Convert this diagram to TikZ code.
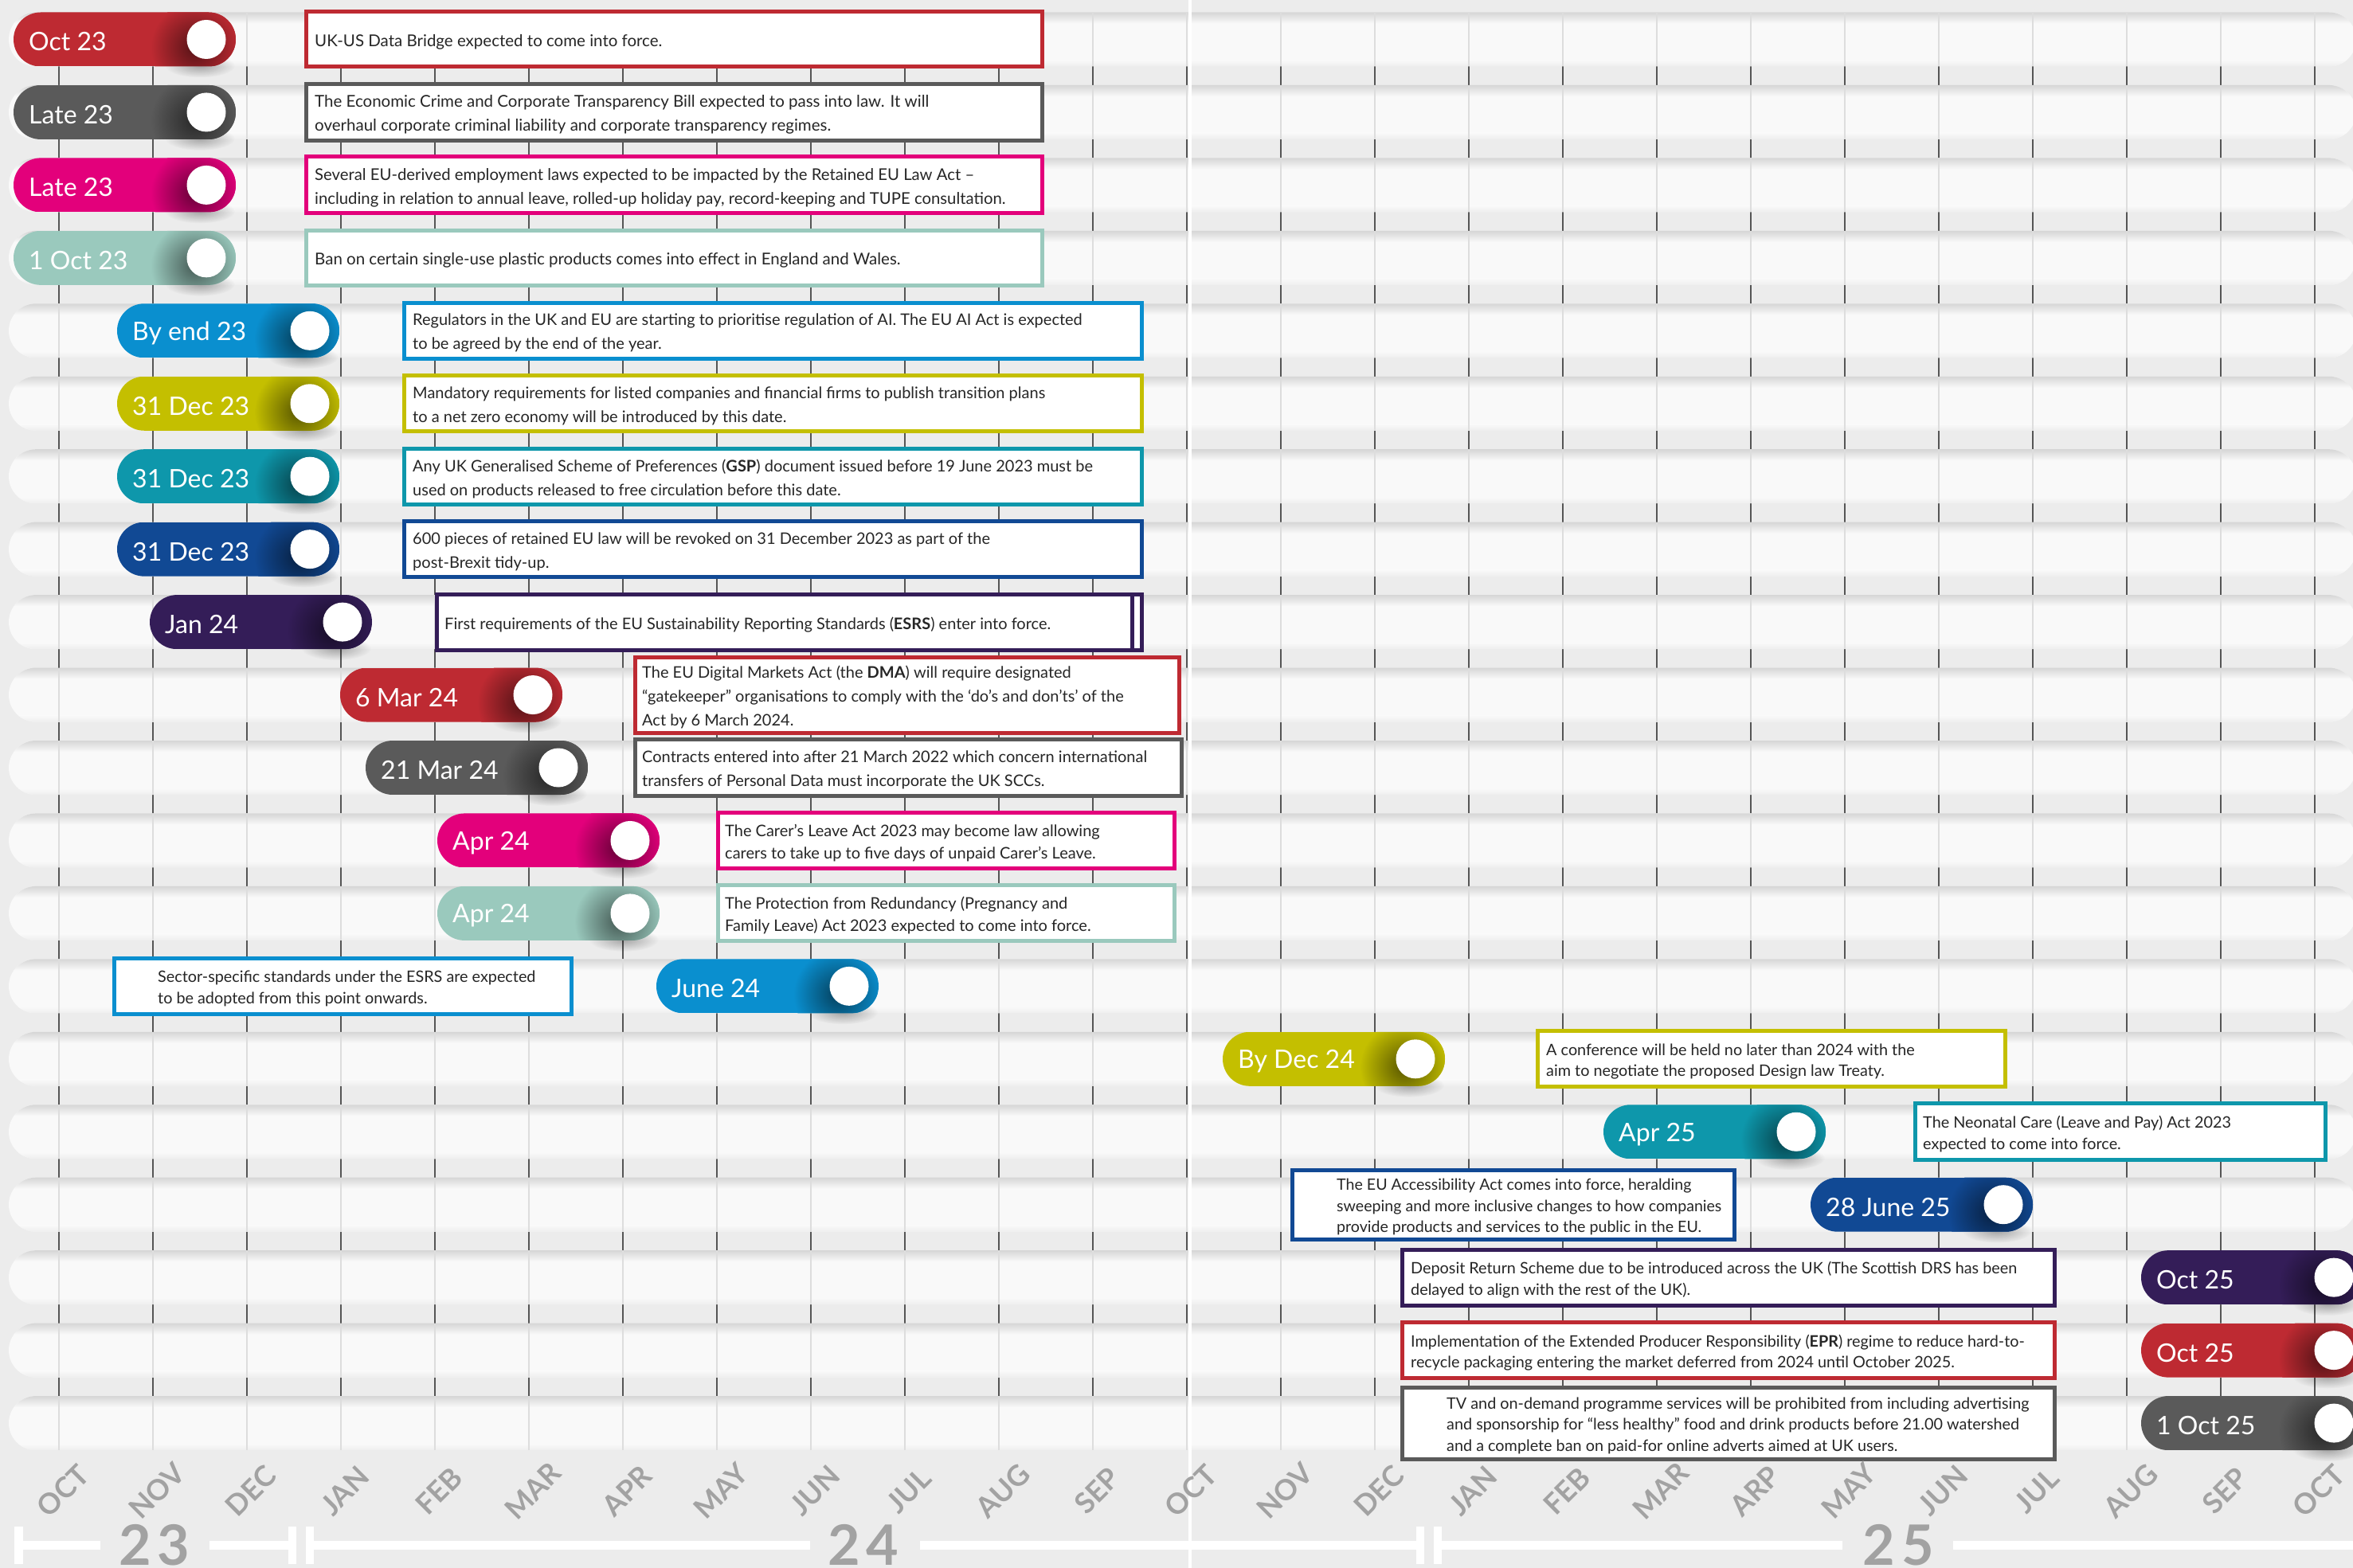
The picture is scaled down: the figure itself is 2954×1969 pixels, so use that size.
\documentclass[tikz,border=0pt]{standalone}
\usepackage{fontspec}
\setmainfont{Lato}
\usetikzlibrary{fadings}
\definecolor{bgc}{HTML}{ECECEC}
\definecolor{bandc}{HTML}{F9F9F9}
\definecolor{bandtop}{HTML}{D6D6D6}
\definecolor{bandbot}{HTML}{EEEEEE}
\definecolor{gridc}{HTML}{DDDDDD}
\definecolor{tickc}{HTML}{555555}
\definecolor{txtc}{HTML}{262626}
\definecolor{monthc}{HTML}{A2A2A2}
\definecolor{cred}{HTML}{BE2A32}
\definecolor{cgray}{HTML}{5A5A5A}
\definecolor{cmag}{HTML}{E3007B}
\definecolor{cmint}{HTML}{9AC9BD}
\definecolor{cblue}{HTML}{0A8FCF}
\definecolor{cyel}{HTML}{C4BF00}
\definecolor{cteal}{HTML}{0E97AB}
\definecolor{cnavy}{HTML}{114994}
\definecolor{cpurp}{HTML}{341D58}
\tikzfading[name=softfade, inner color=transparent!0, outer color=transparent!100]
\newcommand\pillfont{\fontsize{32}{36}\selectfont}
\newcommand\monthfont{\bfseries\fontsize{36}{36}\selectfont}
\newcommand\yearfont{\bfseries\fontsize{70}{70}\selectfont}
% box: name, colour, x1, x2, row, height, inset, {size}{leading}, text
\newcommand\evbox[9]{%
  \pgfmathsetmacro\yc{49.5+91.45*#5}%
  \draw[#2, line width=5pt, fill=white] (#3+2.5,\yc-#6/2+2.5) rectangle (#4-2.5,\yc+#6/2-2.5);
  \node[anchor=west, align=left, text=txtc, font=\fontsize#8\selectfont] (#1) at (#3+#7,\yc+3) {#9};
}
% pill: name, colour, left x, row, label
\newcommand\pill[5]{%
  \pgfmathsetmacro\yc{49.5+91.45*#4}%
  \pgfmathsetmacro\kx{#3+242}%
  \fill[black, opacity=0.30, path fading=softfade] (\kx-8,\yc+33) ellipse (44 and 15);
  \begin{scope}
    \clip[rounded corners=34pt] (#3,\yc-34) rectangle (#3+279,\yc+34);
    \fill[#2] (#3,\yc-34) rectangle (#3+279,\yc+34);
    \shade[inner color=#2!45!black, outer color=#2] (\kx-14,\yc+10) circle (56);
  \end{scope}
  \fill[white] (\kx,\yc) circle (24.5);
  \node[anchor=west, text=white, font=\pillfont] (#1) at (#3+19,\yc+3) {#5};
}
\begin{document}
\begin{tikzpicture}[x=1pt,y=-1pt, every node/.style={inner sep=0pt}]
\useasboundingbox (0,0) rectangle (2954,1969);
\fill[bgc] (0,0) rectangle (2954,1969);
% dark ticks (visible in the gaps)
\foreach \k in {0,...,24} \draw[tickc, line width=2] ({74+118*\k},16) -- ({74+118*\k},1821);
% bands
\foreach \i in {0,...,19}{
  \pgfmathsetmacro\yb{49.5+91.45*\i}
  \begin{scope}
    \clip[rounded corners=34pt] (11,\yb-34) rectangle (2958,\yb+34);
    \fill[bandc] (0,\yb-34) rectangle (2960,\yb+34);
    \shade[top color=bandtop, bottom color=bandc] (0,\yb-34) rectangle (2960,\yb-20);
    \shade[top color=bandc, bottom color=bandbot] (0,\yb+26) rectangle (2960,\yb+34);
    \foreach \k in {0,...,24} \draw[gridc, line width=2] ({74+118*\k},\yb-34) -- ({74+118*\k},\yb+34);
  \end{scope}
}
\draw[white, line width=4] (1494,0) -- (1494,1969);
% event boxes
\evbox{b0}{cred}{382}{1311}{0}{74}{13}{{20.5}{30}}{UK-US Data Bridge expected to come into force.}
\evbox{b1}{cgray}{382}{1311}{1}{76}{13}{{20.5}{30}}{The Economic Crime and Corporate Transparency Bill expected to pass into law. It will\\overhaul corporate criminal liability and corporate transparency regimes.}
\evbox{b2}{cmag}{382}{1311}{2}{76}{13}{{20.3}{30}}{Several EU-derived employment laws expected to be impacted by the Retained EU Law Act –\\including in relation to annual leave, rolled-up holiday pay, record-keeping and TUPE consultation.}
\evbox{b3}{cmint}{382}{1311}{3}{74}{13}{{20.5}{30}}{Ban on certain single-use plastic products comes into effect in England and Wales.}
\evbox{b4}{cblue}{505}{1436}{4}{75}{13}{{20}{30}}{Regulators in the UK and EU are starting to prioritise regulation of AI. The EU AI Act is expected\\to be agreed by the end of the year.}
\evbox{b5}{cyel}{505}{1436}{5}{75}{13}{{20}{30}}{Mandatory requirements for listed companies and financial firms to publish transition plans\\to a net zero economy will be introduced by this date.}
\evbox{b6}{cteal}{505}{1436}{6}{75}{13}{{20}{30}}{Any UK Generalised Scheme of Preferences (\textbf{GSP}) document issued before 19 June 2023 must be\\used on products released to free circulation before this date.}
\evbox{b7}{cnavy}{505}{1436}{7}{75}{13}{{20}{30}}{600 pieces of retained EU law will be revoked on 31 December 2023 as part of the\\post-Brexit tidy-up.}
\evbox{b8}{cpurp}{546}{1436}{8}{75}{12}{{20}{30}}{First requirements of the EU Sustainability Reporting Standards (\textbf{ESRS}) enter into force.}
\draw[cpurp, line width=5] (1421.5,{49.5+91.45*8-35}) -- (1421.5,{49.5+91.45*8+35});
\evbox{b9}{cred}{795}{1483}{9}{100}{11}{{20}{30}}{The EU Digital Markets Act (the \textbf{DMA}) will require designated\\“gatekeeper” organisations to comply with the ‘do’s and don’ts’ of the\\Act by 6 March 2024.}
\evbox{b10}{cgray}{795}{1486}{10}{76}{11}{{20}{30}}{Contracts entered into after 21 March 2022 which concern international\\transfers of Personal Data must incorporate the UK SCCs.}
\evbox{b11}{cmag}{899}{1477}{11}{75}{11}{{20}{28}}{The Carer’s Leave Act 2023 may become law allowing\\carers to take up to five days of unpaid Carer’s Leave.}
\evbox{b12}{cmint}{899}{1477}{12}{75}{11}{{20}{28}}{The Protection from Redundancy (Pregnancy and\\Family Leave) Act 2023 expected to come into force.}
\evbox{b13}{cblue}{141}{720}{13}{75}{57}{{19.8}{26.5}}{Sector-specific standards under the ESRS are expected\\to be adopted from this point onwards.}
\evbox{b14}{cyel}{1928}{2520}{14}{75}{13}{{19.8}{26.5}}{A conference will be held no later than 2024 with the\\aim to negotiate the proposed Design law Treaty.}
\evbox{b15}{cteal}{2402}{2922}{15}{76}{12}{{19.8}{26.5}}{The Neonatal Care (Leave and Pay) Act 2023\\expected to come into force.}
\evbox{b16}{cnavy}{1620}{2180}{16}{92}{58}{{19.6}{26.5}}{The EU Accessibility Act comes into force, heralding\\sweeping and more inclusive changes to how companies\\provide products and services to the public in the EU.}
\evbox{b17}{cpurp}{1758}{2582}{17}{75}{13}{{19.8}{26.5}}{Deposit Return Scheme due to be introduced across the UK (The Scottish DRS has been\\delayed to align with the rest of the UK).}
\evbox{b18}{cred}{1758}{2582}{18}{75}{13}{{19.8}{26.5}}{Implementation of the Extended Producer Responsibility (\textbf{EPR}) regime to reduce hard-to-\\recycle packaging entering the market deferred from 2024 until October 2025.}
\evbox{b19}{cgray}{1758}{2582}{19}{95}{58}{{19.8}{26.5}}{TV and on-demand programme services will be prohibited from including advertising\\and sponsorship for “less healthy” food and drink products before 21.00 watershed\\and a complete ban on paid-for online adverts aimed at UK users.}
% pills
\pill{p0}{cred}{17}{0}{Oct 23}
\pill{p1}{cgray}{17}{1}{Late 23}
\pill{p2}{cmag}{17}{2}{Late 23}
\pill{p3}{cmint}{17}{3}{1 Oct 23}
\pill{p4}{cblue}{147}{4}{By end 23}
\pill{p5}{cyel}{147}{5}{31 Dec 23}
\pill{p6}{cteal}{147}{6}{31 Dec 23}
\pill{p7}{cnavy}{147}{7}{31 Dec 23}
\pill{p8}{cpurp}{188}{8}{Jan 24}
\pill{p9}{cred}{427}{9}{6 Mar 24}
\pill{p10}{cgray}{459}{10}{21 Mar 24}
\pill{p11}{cmag}{549}{11}{Apr 24}
\pill{p12}{cmint}{549}{12}{Apr 24}
\pill{p13}{cblue}{824}{13}{June 24}
\pill{p14}{cyel}{1535}{14}{By Dec 24}
\pill{p15}{cteal}{2013}{15}{Apr 25}
\pill{p16}{cnavy}{2273}{16}{28 June 25}
\pill{p17}{cpurp}{2688}{17}{Oct 25}
\pill{p18}{cred}{2688}{18}{Oct 25}
\pill{p19}{cgray}{2688}{19}{1 Oct 25}
% month labels
\foreach \m [count=\k from 0] in {OCT,NOV,DEC,JAN,FEB,MAR,APR,MAY,JUN,JUL,AUG,SEP,OCT,NOV,DEC,JAN,FEB,MAR,ARP,MAY,JUN,JUL,AUG,SEP,OCT}
  \node[rotate=45, font=\monthfont, text=monthc] (m\k) at ({79+118*\k},1872) {\m};
% year bar
\fill[white] (18,1917) rectangle (29,1964);
\fill[white] (29,1935) rectangle (126,1946);
\fill[white] (263,1935) rectangle (372,1946);
\fill[white] (362,1917) rectangle (372,1964);
\fill[white] (384,1917) rectangle (394,1964);
\fill[white] (384,1935) rectangle (1017,1946);
\fill[white] (1155,1935) rectangle (1788,1946);
\fill[white] (1778,1917) rectangle (1788,1964);
\fill[white] (1800,1917) rectangle (1810,1964);
\fill[white] (1800,1935) rectangle (2313,1946);
\fill[white] (2452,1935) rectangle (2960,1946);
\node[font=\yearfont, text=monthc] (y23) at (194,1940) {2\kern8pt3};
\node[font=\yearfont, text=monthc] (y24) at (1084,1940) {2\kern8pt4};
\node[font=\yearfont, text=monthc] (y25) at (2383,1940) {2\kern8pt5};
\end{tikzpicture}
\end{document}
